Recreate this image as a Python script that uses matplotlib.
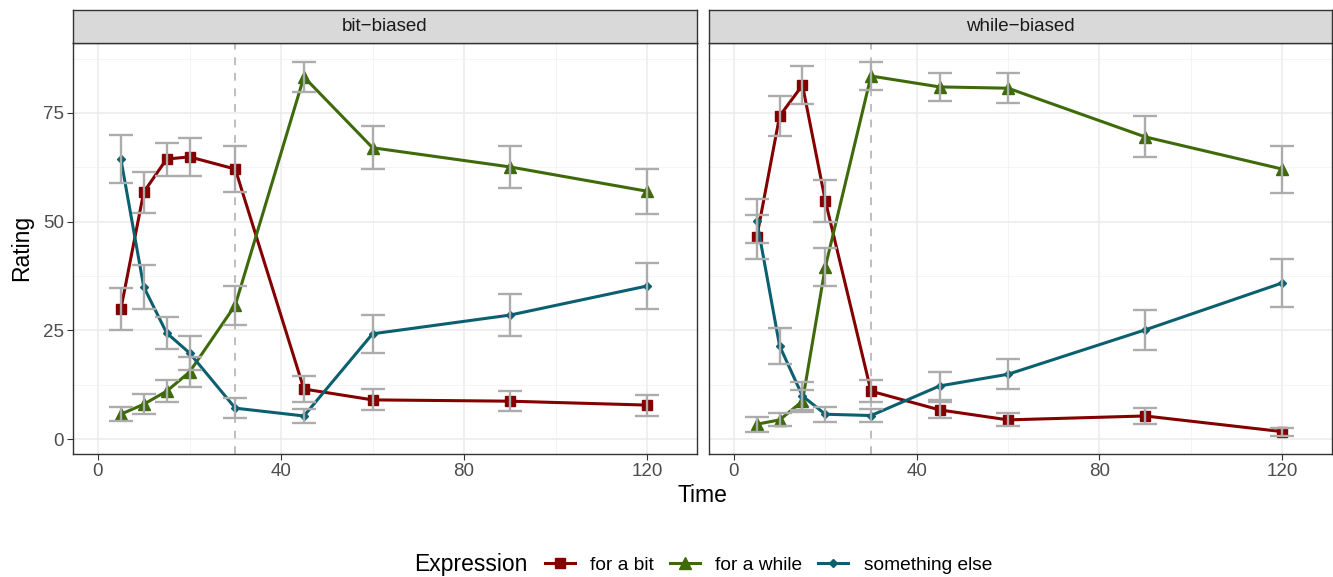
import matplotlib
matplotlib.use("Agg")
import matplotlib.pyplot as plt
import numpy as np

plt.rcParams['font.family'] = ['Liberation Sans', 'DejaVu Sans']

times = [5, 10, 15, 20, 30, 45, 60, 90, 120]
expressions = ["for a bit", "for a while", "something else"]
conditions = ["bit\u2212biased", "while\u2212biased"]

# bit-biased
bit_mean = {
    "for a bit":      [29.9, 56.8, 64.4, 64.9, 62.1, 11.5, 9.0, 8.7, 7.8],
    "for a while":    [5.7, 8.0, 11.0, 15.4, 30.8, 83.3, 67.0, 62.6, 57.0],
    "something else": [64.4, 35.0, 24.4, 19.8, 7.1, 5.3, 24.2, 28.5, 35.2],
}
bit_err = {
    "for a bit":      [4.9, 4.7, 3.8, 4.4, 5.3, 3.0, 2.4, 2.3, 2.4],
    "for a while":    [1.6, 2.3, 2.6, 3.5, 4.5, 3.4, 4.9, 4.8, 5.2],
    "something else": [5.5, 5.0, 3.6, 4.0, 2.3, 1.7, 4.4, 4.8, 5.3],
}
# while-biased
while_mean = {
    "for a bit":      [46.5, 74.3, 81.4, 54.8, 11.0, 6.7, 4.4, 5.3, 1.7],
    "for a while":    [3.4, 4.4, 8.7, 39.6, 83.5, 81.0, 80.7, 69.5, 62.1],
    "something else": [50.2, 21.4, 9.9, 5.7, 5.4, 12.2, 14.9, 25.1, 35.9],
}
while_err = {
    "for a bit":      [5.0, 4.6, 4.3, 4.8, 2.6, 1.9, 1.5, 1.8, 0.9],
    "for a while":    [1.7, 1.5, 2.5, 4.4, 3.3, 3.2, 3.4, 4.7, 5.4],
    "something else": [5.0, 4.1, 3.2, 1.7, 1.5, 3.2, 3.4, 4.6, 5.5],
}

colors = {"for a bit": "#840000", "for a while": "#3e6a0b", "something else": "#0b6070"}
markers = {"for a bit": "s", "for a while": "^", "something else": "D"}
msizes = {"for a bit": 7, "for a while": 8, "something else": 4.5}

W, H = 1333, 577
fig = plt.figure(figsize=(W / 100, H / 100), dpi=100)

panels = [(73, 697, conditions[0], bit_mean, bit_err),
          (709, 1332, conditions[1], while_mean, while_err)]
top, bottom, strip_top = 43, 454, 10

for i, (x0, x1, title, means, errs) in enumerate(panels):
    ax = fig.add_axes([x0 / W, 1 - bottom / H, (x1 - x0) / W, (bottom - top) / H])
    ax.set_xlim(-5.46, 130.9)
    ax.set_ylim(-3.45, 91.1)
    ax.set_xticks([0, 40, 80, 120])
    ax.set_xticks([20, 60, 100], minor=True)
    ax.set_yticks([0, 25, 50, 75])
    ax.set_yticks([12.5, 37.5, 62.5, 87.5], minor=True)
    ax.grid(True, which='major', color='#ebebeb', linewidth=1.1)
    ax.grid(True, which='minor', color='#f2f2f2', linewidth=0.6)
    ax.set_axisbelow(True)
    for s in ax.spines.values():
        s.set_color('#333333')
        s.set_linewidth(1.0)
    ax.tick_params(which='major', length=4, color='#333333', labelsize=13.5,
                   labelcolor='#4d4d4d', width=0.8, pad=2.5)
    ax.tick_params(which='minor', length=0)
    if i == 1:
        ax.tick_params(axis='y', labelleft=False, length=0)

    ax.axvline(30, color='#bebebe', linestyle=(0, (4, 4)), linewidth=1.4, zorder=1)

    for e in expressions:
        ax.plot(times, means[e], color=colors[e], linewidth=2.2, marker=markers[e],
                markersize=msizes[e], zorder=3, label=e)
        ax.errorbar(times, means[e], yerr=errs[e], fmt='none', ecolor='#acacac',
                    elinewidth=1.7, capsize=8.5, capthick=1.7, zorder=4)

    sax = fig.add_axes([x0 / W, 1 - top / H, (x1 - x0) / W, (top - strip_top) / H])
    sax.set_facecolor('#d9d9d9')
    sax.set_xticks([])
    sax.set_yticks([])
    for s in sax.spines.values():
        s.set_color('#333333')
        s.set_linewidth(1.0)
    sax.text(0.5, 0.5, title, ha='center', va='center', fontsize=13.5,
             color='#1a1a1a', transform=sax.transAxes)

fig.text(((73 + 1332) / 2) / W, 1 - 496 / H, "Time", ha='center', va='center', fontsize=16.5)
fig.text(22 / W, 1 - 248 / H, "Rating", ha='center', va='center', fontsize=16.5, rotation=90)

handles = [plt.Line2D([], [], color=colors[e], marker=markers[e], markersize=msizes[e],
                      linewidth=2.2) for e in expressions]
fig.text(470.5 / W, 1 - 565 / H, "Expression", ha='center', va='center', fontsize=16.5)
fig.legend(handles, expressions, loc='center', ncol=3, frameon=False, fontsize=13.8,
           bbox_to_anchor=(768.5 / W, 1 - 565 / H), handlelength=1.55, columnspacing=0.82,
           handletextpad=0.82)

fig.savefig("out.png", dpi=100)
